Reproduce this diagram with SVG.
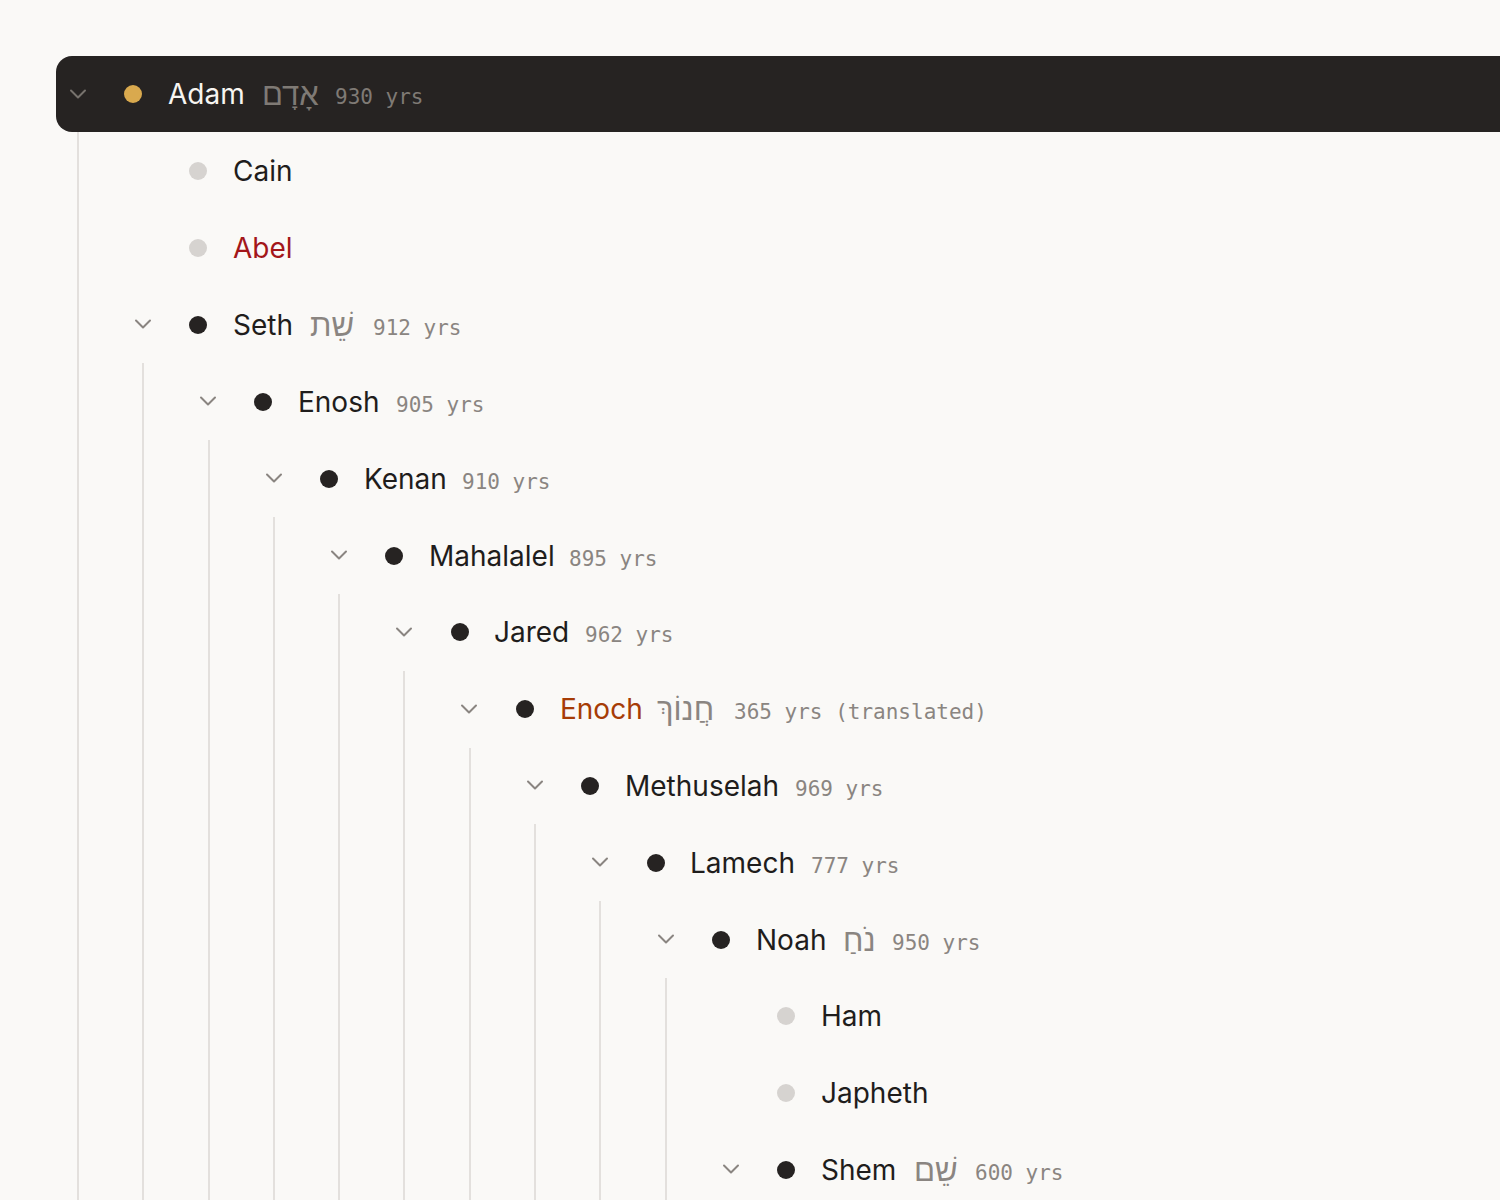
<svg xmlns="http://www.w3.org/2000/svg" width="1500" height="1200" viewBox="0 0 1500 1200">
<style>
.name{font-family:Inter,"Liberation Sans",sans-serif;font-size:28px;fill:#1f1d1c}
.heb{font-family:"Liberation Sans","DejaVu Sans",sans-serif;font-size:31px;fill:#8a8581}
.yrs{font-family:"DejaVu Sans Mono","Liberation Mono",monospace;font-size:21px;fill:#8a8581}
.chev{fill:none;stroke:#8a8581;stroke-width:2;stroke-linecap:round;stroke-linejoin:round}
.dot{fill:#262322}
.leaf{fill:#d6d3d0}
.guide{stroke:#e3e0dd;stroke-width:2}
</style>
<defs>
<path id="chev" d="M-7,-3.5 L0,3.5 L7,-3.5"/>
</defs>
<rect width="1500" height="1200" fill="#faf9f7"/>
<g id="connectors">
<line class="guide" x1="78" y1="132" x2="78" y2="1200"/>
<line class="guide" x1="143" y1="363" x2="143" y2="1200"/>
<line class="guide" x1="209" y1="440" x2="209" y2="1200"/>
<line class="guide" x1="274" y1="517" x2="274" y2="1200"/>
<line class="guide" x1="339" y1="594" x2="339" y2="1200"/>
<line class="guide" x1="404" y1="671" x2="404" y2="1200"/>
<line class="guide" x1="470" y1="748" x2="470" y2="1200"/>
<line class="guide" x1="535" y1="824" x2="535" y2="1200"/>
<line class="guide" x1="600" y1="901" x2="600" y2="1200"/>
<line class="guide" x1="666" y1="978" x2="666" y2="1200"/>
</g>
<g id="adam">
<rect x="56" y="56" width="1480" height="76" rx="16" fill="#262322"/>
<use href="#chev" class="chev" x="78" y="94" style="stroke:#77726d"/>
<circle cx="133" cy="94" r="9" fill="#d9a94e"/>
<text class="name" x="168" y="104" style="fill:#f7f5f1">Adam</text>
<text class="heb" x="262" y="105" style="fill:#7f7a75">אָדָם</text>
<text class="yrs" x="335" y="104" style="fill:#7f7a75">930 yrs</text>
</g>
<g id="cain">
<circle class="leaf" cx="198" cy="171" r="9"/>
<text class="name" x="233" y="181">Cain</text>
</g>
<g id="abel">
<circle class="leaf" cx="198" cy="248" r="9"/>
<text class="name" x="233" y="258" style="fill:#a3161a">Abel</text>
</g>
<g id="seth">
<use href="#chev" class="chev" x="143" y="324"/>
<circle class="dot" cx="198" cy="325" r="9"/>
<text class="name" x="233" y="335">Seth</text>
<text class="heb" x="310" y="336">שֵׁת</text>
<text class="yrs" x="373" y="335">912 yrs</text>
</g>
<g id="enosh">
<use href="#chev" class="chev" x="208" y="401"/>
<circle class="dot" cx="263" cy="402" r="9"/>
<text class="name" x="298" y="412">Enosh</text>
<text class="yrs" x="396" y="412">905 yrs</text>
</g>
<g id="kenan">
<use href="#chev" class="chev" x="274" y="478"/>
<circle class="dot" cx="329" cy="479" r="9"/>
<text class="name" x="364" y="489">Kenan</text>
<text class="yrs" x="462" y="489">910 yrs</text>
</g>
<g id="mahalalel">
<use href="#chev" class="chev" x="339" y="555"/>
<circle class="dot" cx="394" cy="556" r="9"/>
<text class="name" x="429" y="566">Mahalalel</text>
<text class="yrs" x="569" y="566">895 yrs</text>
</g>
<g id="jared">
<use href="#chev" class="chev" x="404" y="632"/>
<circle class="dot" cx="460" cy="632" r="9"/>
<text class="name" x="494" y="642">Jared</text>
<text class="yrs" x="585" y="642">962 yrs</text>
</g>
<g id="enoch">
<use href="#chev" class="chev" x="469" y="709"/>
<circle class="dot" cx="525" cy="709" r="9"/>
<text class="name" x="560" y="719" style="fill:#a63c06">Enoch</text>
<text class="heb" x="657" y="720">חֲנוֹךְ</text>
<text class="yrs" x="734" y="719">365 yrs (translated)</text>
</g>
<g id="methuselah">
<use href="#chev" class="chev" x="535" y="785"/>
<circle class="dot" cx="590" cy="786" r="9"/>
<text class="name" x="625" y="796">Methuselah</text>
<text class="yrs" x="795" y="796">969 yrs</text>
</g>
<g id="lamech">
<use href="#chev" class="chev" x="600" y="862"/>
<circle class="dot" cx="656" cy="863" r="9"/>
<text class="name" x="690" y="873">Lamech</text>
<text class="yrs" x="811" y="873">777 yrs</text>
</g>
<g id="noah">
<use href="#chev" class="chev" x="666" y="939"/>
<circle class="dot" cx="721" cy="940" r="9"/>
<text class="name" x="756" y="950">Noah</text>
<text class="heb" x="843" y="951">נֹחַ</text>
<text class="yrs" x="892" y="950">950 yrs</text>
</g>
<g id="ham">
<circle class="leaf" cx="786" cy="1016" r="9"/>
<text class="name" x="821" y="1026">Ham</text>
</g>
<g id="japheth">
<circle class="leaf" cx="786" cy="1093" r="9"/>
<text class="name" x="821" y="1103">Japheth</text>
</g>
<g id="shem">
<use href="#chev" class="chev" x="731" y="1169"/>
<circle class="dot" cx="786" cy="1170" r="9"/>
<text class="name" x="821" y="1180">Shem</text>
<text class="heb" x="914" y="1181">שֵׁם</text>
<text class="yrs" x="975" y="1180">600 yrs</text>
</g>
</svg>
